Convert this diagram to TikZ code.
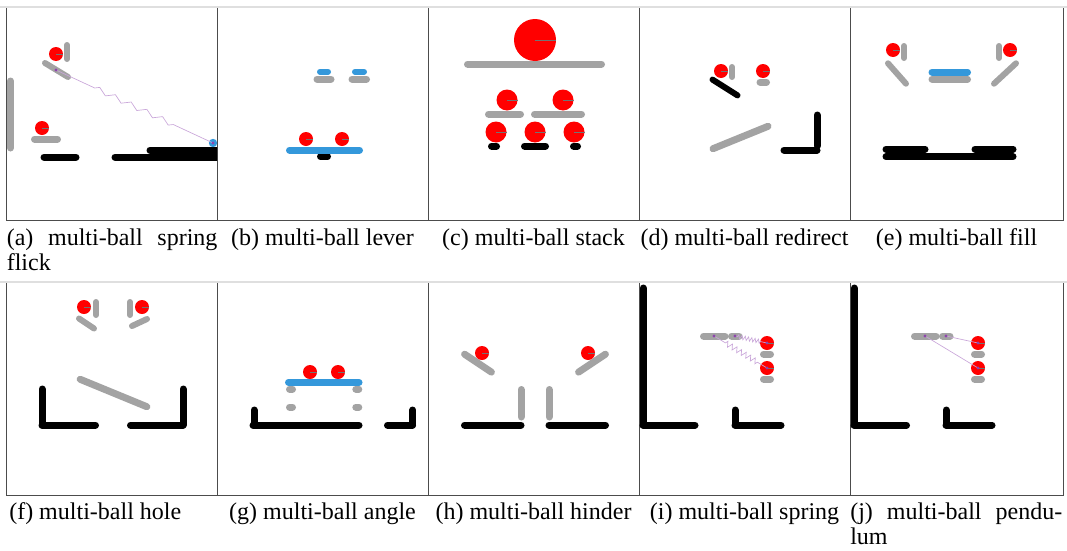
\documentclass[tikz,border=0pt]{standalone}
\usepackage{fontspec}
\setmainfont{Liberation Serif}
\usetikzlibrary{decorations.pathmorphing}

\definecolor{barg}{HTML}{A3A3A3}
\definecolor{barblue}{HTML}{3498DB}
\definecolor{ballred}{HTML}{FF0000}
\definecolor{springc}{HTML}{C9A6D9}
\definecolor{dotc}{HTML}{8E44AD}

\tikzset{
  graybar/.style={draw=barg, line width=5.25pt, line cap=round},
  blackbar/.style={draw=black, line width=5.25pt, line cap=round},
  bluebar/.style={draw=barblue, line width=5.25pt, line cap=round},
  thinbar/.style={line width=4.5pt},
  framebox/.style={draw=black!70, line width=0.6pt},
  springline/.style={draw=springc, line width=0.5pt, decorate, decoration={zigzag, #1}},
  tieline/.style={draw=springc, line width=0.5pt},
  caption/.style={font=\fontsize{18}{19}\selectfont, inner sep=0pt, anchor=base},
}

% ball with its spin mark
\newcommand\redball[3]{%
  \fill[ballred] (#1,#2) circle (#3);
  \draw[black!55, line width=0.4pt] (#1,#2) -- ++(#3,0);
}
\newcommand\pdot[1]{\fill[dotc] (#1) circle (1.6);}

\begin{document}
\begin{tikzpicture}[x=0.75pt, y=-0.75pt]
  \useasboundingbox (0,0) rectangle (1067,550);

  % Frames
  \foreach \xl/\xr in {6.5/217, 217/428, 428/639, 639/850, 850/1063} {
    \draw[framebox] (\xl,7) rectangle (\xr,220);
    \draw[framebox] (\xl,282) rectangle (\xr,495);
  }
  \draw[gray!25, line width=0.8pt] (0,7) -- (1067,7);
  \draw[gray!25, line width=0.8pt] (0,282) -- (1067,282);

  % (a) spring flick
  \begin{scope}
    \clip (6.5,7) rectangle (217,220);
    \draw[graybar] (10.5,81) -- (10.5,148);
    \draw[graybar, thinbar] (67,45) -- (67,59);
    \draw[graybar, thinbar] (45,63) -- (68,77);
    \draw[graybar] (34.5,139) -- (57.5,139);
    \draw[blackbar] (44,157) -- (76,157);
    \draw[blackbar] (115,157) -- (230,157);
    \draw[blackbar] (150,150) -- (230,150);
    \redball{56}{54}{7}
    \redball{42}{128}{7}
    \coordinate (flickA) at (56,70);
    \coordinate (flickB) at (213,143);
    \fill[barblue] (flickB) circle (4.2);
    \draw[springline={segment length=13pt, amplitude=2pt, pre length=32pt, post length=32pt}] (flickA) -- (flickB);
    \pdot{flickA} \pdot{flickB}
  \end{scope}

  % (b) lever
  \draw[bluebar, thinbar] (320,71.7) -- (328,71.7);
  \draw[graybar] (317,79) -- (331,79);
  \draw[bluebar, thinbar] (355,71.7) -- (364,71.7);
  \draw[graybar] (352,79) -- (366.5,79);
  \draw[blackbar] (320.5,156.7) -- (327.5,156.7);
  \draw[bluebar] (289.5,150) -- (359.5,150);
  \redball{306}{139}{7}
  \redball{342}{139}{7}

  % (c) stack
  \draw[graybar] (467.5,64) -- (601.5,64);
  \redball{535}{40}{21}
  \draw[graybar] (488.5,114) -- (520.5,114);
  \draw[graybar] (534.5,114) -- (581.5,114);
  \redball{507}{100}{10.5}
  \redball{563}{100}{10.5}
  \draw[blackbar] (491.5,146) -- (496.5,146);
  \draw[blackbar] (524.5,146) -- (545.5,146);
  \draw[blackbar] (573.5,146) -- (577.5,146);
  \redball{496}{132}{10.5}
  \redball{535}{132}{10.5}
  \redball{574}{132}{10.5}

  % (d) redirect
  \draw[graybar, thinbar] (732,67) -- (732,77);
  \draw[graybar] (760,82) -- (766.5,82);
  \redball{721}{71}{7}
  \redball{763}{71}{7}
  \draw[blackbar, thinbar] (712.5,79.6) -- (737.5,95.4);
  \draw[graybar] (713,148.7) -- (768,126.3);
  \draw[blackbar] (817,115) -- (817,146);
  \draw[blackbar] (784,150) -- (817,150);

  % (e) fill
  \draw[graybar, thinbar] (904,46) -- (904,58);
  \draw[graybar, thinbar] (888,63.3) -- (906,83.7);
  \draw[graybar, thinbar] (999,46) -- (999,58);
  \draw[graybar, thinbar] (1016,63.3) -- (994,83.7);
  \redball{893}{50}{7}
  \redball{1010}{50}{7}
  \draw[graybar] (932,79) -- (967.5,79);
  \draw[bluebar] (932,72) -- (967.5,72);
  \draw[blackbar] (886,149) -- (925,149);
  \draw[blackbar] (975,149) -- (1013,149);
  \draw[blackbar] (886,156.7) -- (1013,156.7);

  % (f) hole
  \draw[graybar, thinbar] (96,302) -- (96,315);
  \draw[graybar, thinbar] (79,318.5) -- (94,328.5);
  \draw[graybar, thinbar] (130,302) -- (130,315);
  \draw[graybar, thinbar] (132,326) -- (147,319);
  \redball{84}{307}{7}
  \redball{142}{307}{7}
  \draw[graybar] (80.2,379.3) -- (146.8,406.7);
  \draw[blackbar] (42,389) -- (42,425);
  \draw[blackbar] (42,425) -- (95.5,425);
  \draw[blackbar] (130.5,425) -- (183,425);
  \draw[blackbar] (183,389) -- (183,425);

  % (g) angle
  \draw[graybar] (289.5,389) -- (292.5,389);
  \draw[graybar] (355.8,389) -- (358.8,389);
  \draw[graybar] (289.5,407) -- (292.5,407);
  \draw[graybar] (355.8,407) -- (358.8,407);
  \draw[bluebar] (288.5,382.3) -- (359,382.3);
  \redball{310}{372}{7}
  \redball{338}{372}{7}
  \draw[blackbar] (254,410) -- (254,425);
  \draw[blackbar] (253,425) -- (359,425);
  \draw[blackbar] (412.7,410) -- (412.7,425);
  \draw[blackbar] (387.5,425) -- (412.5,425);

  % (h) hinder
  \draw[graybar] (464.6,354.2) -- (491.4,372.1);
  \draw[graybar] (578.6,372.1) -- (605.4,354.2);
  \redball{482}{353}{7}
  \redball{588}{353}{7}
  \draw[graybar] (521,389.5) -- (521,417);
  \draw[graybar] (549,389.5) -- (549,417);
  \draw[blackbar] (464.5,425) -- (521,425);
  \draw[blackbar] (549,425) -- (605.5,425);

  % (i) spring
  \draw[blackbar] (643,288) -- (643,425);
  \draw[blackbar] (643,425) -- (695,425);
  \draw[blackbar] (735,410) -- (735,425);
  \draw[blackbar] (735,425) -- (781,425);
  \draw[graybar] (703.5,336) -- (725,336);
  \draw[graybar] (731.5,336) -- (739,336);
  \draw[graybar] (763.5,354) -- (770.5,354);
  \draw[graybar] (763.5,379) -- (770.5,379);
  \redball{767}{343}{7}
  \redball{767}{368}{7}
  \coordinate (sprA) at (714,336);
  \coordinate (sprB) at (735,336);
  \coordinate (sprC) at (767,343);
  \coordinate (sprD) at (767,368);
  \draw[springline={segment length=2.5pt, amplitude=1.5pt, pre length=2pt, post length=4pt}] (sprB) -- (sprC);
  \draw[springline={segment length=4pt, amplitude=2pt, pre length=10pt, post length=7.5pt}] (sprA) -- (sprD);
  \pdot{sprA} \pdot{sprB} \pdot{sprC} \pdot{sprD}

  % (j) pendulum
  \draw[blackbar] (854,288) -- (854,425);
  \draw[blackbar] (854,425) -- (906.5,425);
  \draw[blackbar] (946,410) -- (946,425);
  \draw[blackbar] (946,425) -- (992,425);
  \draw[graybar] (914.5,336) -- (936,336);
  \draw[graybar] (942.5,336) -- (950,336);
  \draw[graybar] (974.5,354) -- (981.5,354);
  \draw[graybar] (974.5,379) -- (981.5,379);
  \redball{978}{343}{7}
  \redball{978}{368}{7}
  \coordinate (pendA) at (925,336);
  \coordinate (pendB) at (946,336);
  \coordinate (pendC) at (978,343);
  \coordinate (pendD) at (978,368);
  \draw[tieline] (pendB) -- (pendC);
  \draw[tieline] (pendA) -- (pendD);
  \pdot{pendA} \pdot{pendB} \pdot{pendC} \pdot{pendD}

  % Captions
  \node[caption, anchor=base west, text width=158pt, align=left] (capA) at (6.5,245) {(a)\hfill multi-ball\hfill spring\\flick};
  \node[caption] (capB) at (322.5,245) {(b) multi-ball lever};
  \node[caption] (capC) at (533.5,245) {(c) multi-ball stack};
  \node[caption] (capD) at (744.5,245) {(d) multi-ball redirect};
  \node[caption] (capE) at (956.5,245) {(e) multi-ball fill};
  \node[caption, anchor=base west] (capF) at (9,519) {(f) multi-ball hole};
  \node[caption] (capG) at (322.5,519) {(g) multi-ball angle};
  \node[caption] (capH) at (533.5,519) {(h) multi-ball hinder};
  \node[caption] (capI) at (744.5,519) {(i) multi-ball spring};
  \node[caption, anchor=base west, text width=159pt, align=left] (capJ) at (850,519) {(j)\hfill multi-ball\hfill pendu-\\lum};
\end{tikzpicture}
\end{document}
